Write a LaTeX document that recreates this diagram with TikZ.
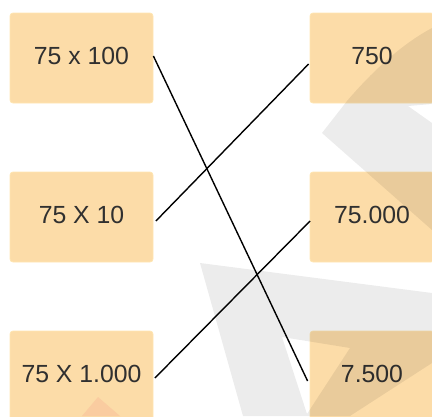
\documentclass[tikz,border=0pt]{standalone}
\usepackage{fontspec}
\setmainfont{Liberation Sans}
\definecolor{boxfill}{RGB}{252,220,168}
\definecolor{boxedge}{RGB}{255,230,178}
\definecolor{txt}{RGB}{48,48,48}
\definecolor{wmorange}{RGB}{250,204,160}
\begin{document}
\begin{tikzpicture}[x=1pt,y=-1pt,
  box/.style={fill=boxfill, draw=boxedge, line width=0.8pt, rounded corners=3pt,
    minimum height=90pt, text=txt, font=\fontsize{24.8}{28}\selectfont,
    text height=17.5pt, text depth=5pt, inner sep=0pt},
  lbox/.style={box, minimum width=143pt},
  rbox/.style={box, minimum width=124pt},
  link/.style={line width=1.4pt, black},
  wm/.style={fill=black, fill opacity=0.075}]
\useasboundingbox (0,0) rectangle (432,416);
\begin{scope}
  \clip (0,0) rectangle (432,416);
  \node[lbox] (l1) at (81.5,58)  {75 x 100};
  \node[lbox] (l2) at (81.5,217) {75 X 10};
  \node[lbox] (l3) at (81.5,376) {75 X 1.000};
  \node[rbox] (r1) at (372,58)  {750};
  \node[rbox] (r2) at (372,217) {75.000};
  \node[rbox] (r3) at (372,376) {7.500};
  % watermark
  \fill[wm] (322,133) -- (347,101) .. controls (370,74) and (400,45) .. (432,28)
    -- (432,104) -- (408,106) -- (432,123) -- (432,230) -- cycle;
  \fill[wm, even odd rule] (200,263) -- (432,293) -- (432,363) -- (350,416) -- (243,416) -- cycle
    (282,337) -- (350,348) -- (307,414) -- cycle;
  \fill[wmorange] (82,416) -- (98,397) -- (120,416) -- cycle;
\end{scope}
\draw[link] ([yshift=2pt]l1.east) -- ([xshift=-2pt,yshift=-5pt]r3.west);
\draw[link] ([xshift=2.5pt,yshift=-4pt]l2.east) -- ([xshift=-1pt,yshift=-6pt]r1.west);
\draw[link] ([xshift=1.5pt,yshift=-2pt]l3.east) -- ([xshift=0.5pt,yshift=-4pt]r2.west);
\end{tikzpicture}
\end{document}
